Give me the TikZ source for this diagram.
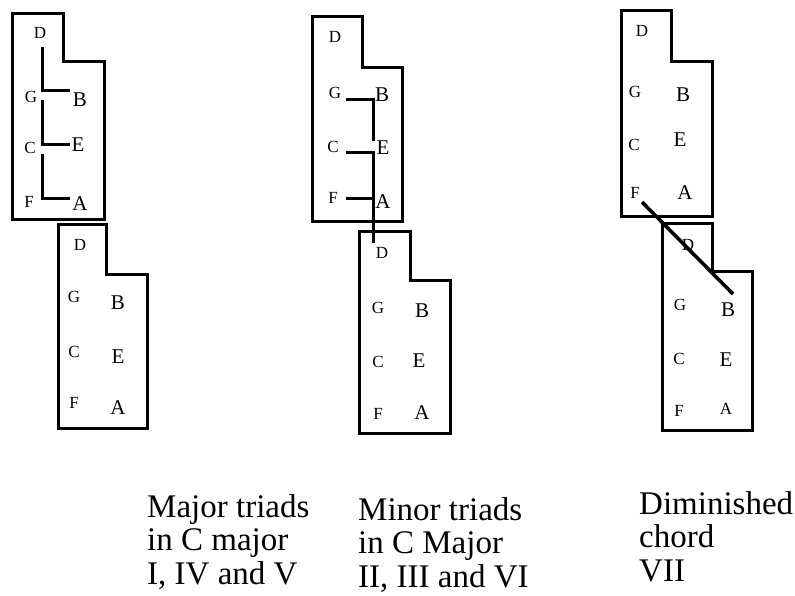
\documentclass[tikz,border=0pt]{standalone}
\usepackage{fontspec}
\setmainfont{Liberation Serif}
\begin{document}
\begin{tikzpicture}[x=1pt,y=-1pt,
  box/.style={line width=3pt, line join=miter},
  chord/.style={line width=3pt},
  sm/.style={font=\fontsize{17}{17}\selectfont, inner sep=0pt},
  lg/.style={font=\fontsize{21}{21}\selectfont, inner sep=0pt},
  caption/.style={font=\fontsize{33}{33.5}\selectfont, align=left, anchor=north west, inner sep=0pt}]
\useasboundingbox (0,0) rectangle (795,595);
% boxes
\draw[box] (12,13) -- (63,13) -- (63,61) -- (104,61) -- (104,219) -- (12,219) -- cycle;
\draw[box] (58,224) -- (106,224) -- (106,274) -- (147,274) -- (147,428) -- (58,428) -- cycle;
\draw[box] (312,16) -- (362,16) -- (362,67) -- (402,67) -- (402,221) -- (312,221) -- cycle;
\draw[box] (359,231) -- (410,231) -- (410,280) -- (450,280) -- (450,433) -- (359,433) -- cycle;
\draw[box] (621,10) -- (671,10) -- (671,61) -- (712,61) -- (712,216) -- (621,216) -- cycle;
\draw[box] (662,223) -- (712,223) -- (712,271) -- (752,271) -- (752,430) -- (662,430) -- cycle;
% box 1 letters
\node[sm] (d1) at (40,33) {D};
\node[sm] (g1) at (31,97) {G};
\node[lg] (b1) at (80,100) {B};
\node[sm] (c1) at (30,148) {C};
\node[lg] (e1) at (78,145) {E};
\node[sm] (f1) at (29,202) {F};
\node[lg] (a1) at (80,204) {A};
% box 2
\node[sm] (d2) at (80,245) {D};
\node[sm] (g2) at (74,297) {G};
\node[lg] (b2) at (118,303) {B};
\node[sm] (c2) at (74,352) {C};
\node[lg] (e2) at (118,357) {E};
\node[sm] (f2) at (74,403) {F};
\node[lg] (a2) at (118,408) {A};
% box 3
\node[sm] (d3) at (335,37) {D};
\node[sm] (g3) at (335,93) {G};
\node[lg] (b3) at (382,95) {B};
\node[sm] (c3) at (333,147) {C};
\node[lg] (e3) at (383,148) {E};
\node[sm] (f3) at (333,198) {F};
\node[lg] (a3) at (383,202) {A};
% box 4
\node[sm] (d4) at (382,253) {D};
\node[sm] (g4) at (378,308) {G};
\node[lg] (b4) at (422,311) {B};
\node[sm] (c4) at (378,362) {C};
\node[lg] (e4) at (419,361) {E};
\node[sm] (f4) at (378,414) {F};
\node[lg] (a4) at (422,413) {A};
% box 5
\node[sm] (d5) at (642,31) {D};
\node[sm] (g5) at (635,92) {G};
\node[lg] (b5) at (683,95) {B};
\node[sm] (c5) at (634,145) {C};
\node[lg] (e5) at (680,140) {E};
\node[sm] (f5) at (635,193) {F};
\node[lg] (a5) at (685,193) {A};
% box 6
\node[sm] (d6) at (688,245) {D};
\node[sm] (g6) at (680,305) {G};
\node[lg] (b6) at (728,310) {B};
\node[sm] (c6) at (679,359) {C};
\node[lg] (e6) at (726,360) {E};
\node[sm] (f6) at (679,411) {F};
\node[sm] (a6) at (726,409) {A};
% chord lines, box 1
\coordinate (m1a) at (42,47);
\coordinate (m1b) at (42,90);
\coordinate (m1c) at (70,90);
\draw[chord] (m1a) -- (m1b) -- (m1c);
\coordinate (m2a) at (42,100);
\coordinate (m2b) at (42,144);
\coordinate (m2c) at (70,144);
\draw[chord] (m2a) -- (m2b) -- (m2c);
\coordinate (m3a) at (42,154);
\coordinate (m3b) at (42,198);
\coordinate (m3c) at (70,198);
\draw[chord] (m3a) -- (m3b) -- (m3c);
% chord lines, box 3
\coordinate (n1a) at (346,99);
\coordinate (n1b) at (373,99);
\coordinate (n1c) at (373,141);
\draw[chord] (n1a) -- (n1b) -- (n1c);
\coordinate (n2a) at (346,152);
\coordinate (n2b) at (373,152);
\coordinate (n2c) at (373,243);
\draw[chord] (n2a) -- (n2b) -- (n2c);
\coordinate (n3a) at (346,198);
\coordinate (n3b) at (373,198);
\draw[chord] (n3a) -- (n3b);
% diminished
\coordinate (p1) at (642,202);
\coordinate (p2) at (733,294);
\draw[line width=3.6pt] (p1) -- (p2);
% captions
\node[caption] (t1) at (147,494) {Major triads\\in C major\\I, IV and V};
\node[caption] (t2) at (358,497) {Minor triads\\in C Major\\II, III and VI};
\node[caption] (t3) at (639,491) {Diminished\\chord\\VII};
\end{tikzpicture}
\end{document}
